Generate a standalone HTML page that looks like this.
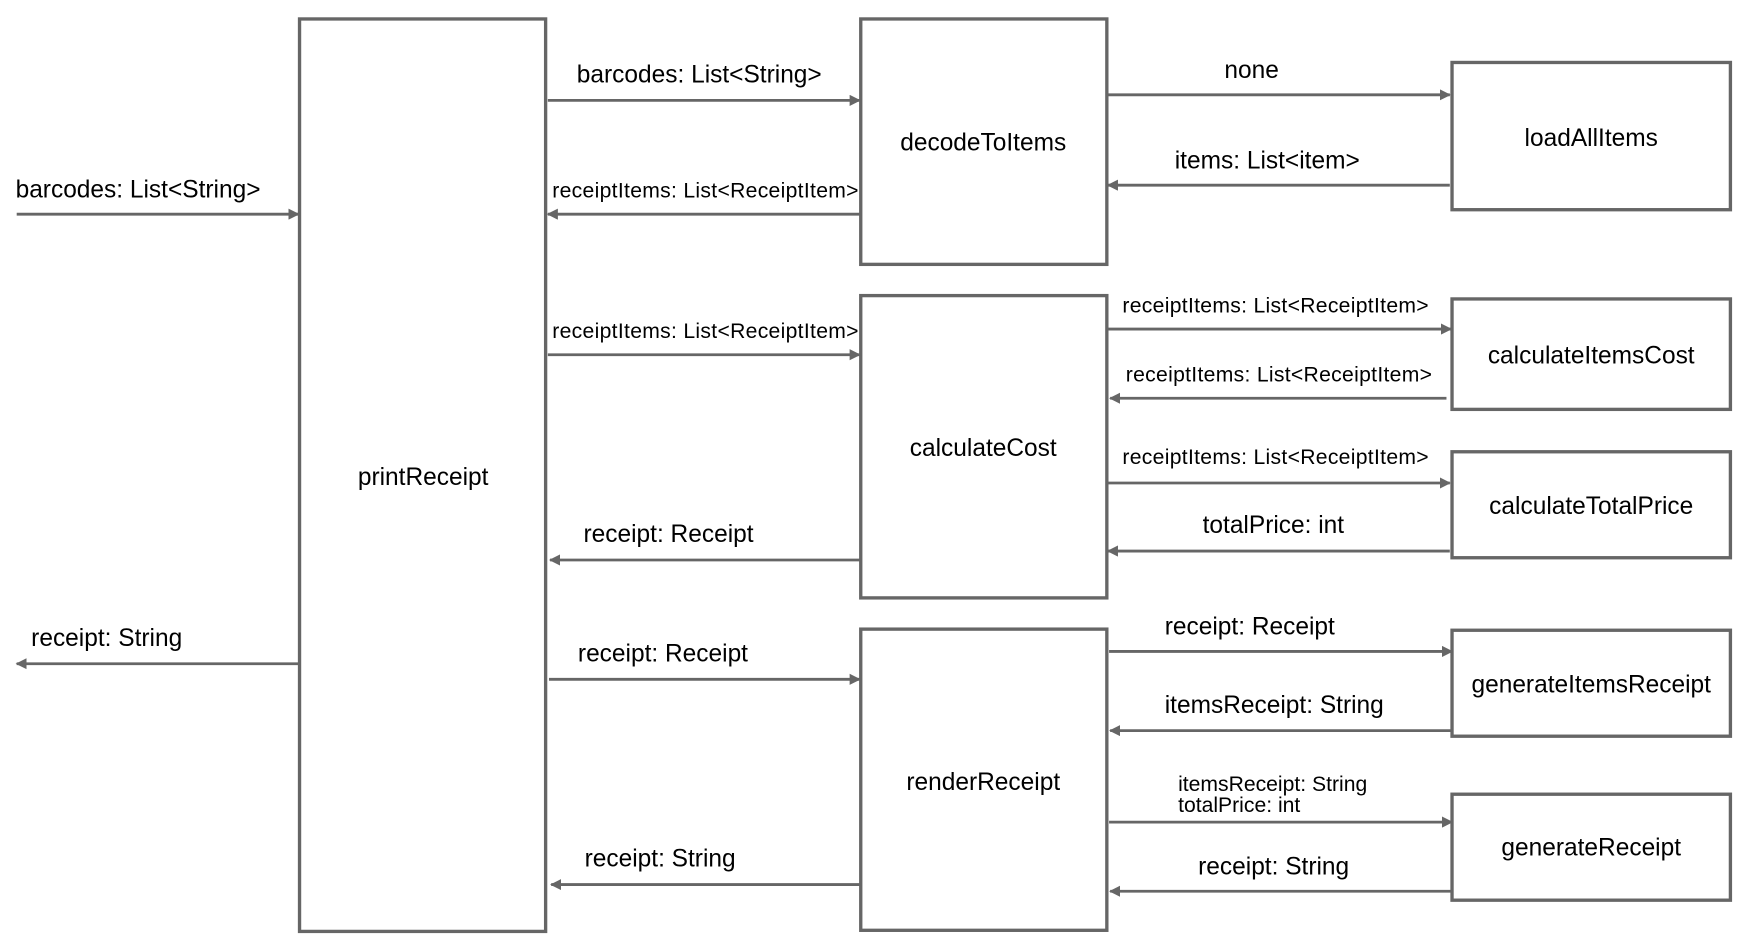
<!DOCTYPE html>
<html><head><meta charset="utf-8"><style>html,body{margin:0;padding:0;background:#fff}svg{display:block}</style></head>
<body>
<svg width="1746" height="937" viewBox="0 0 1568 840" preserveAspectRatio="none" xmlns="http://www.w3.org/2000/svg" font-family="Liberation Sans, Arial, sans-serif" fill="#000">
<defs>
<marker id="a" markerWidth="10" markerHeight="10" refX="9" refY="5" orient="auto" markerUnits="userSpaceOnUse">
<path d="M0,0 L10,5 L0,10 z" fill="#666"/></marker>
</defs>
<g fill="#fff" stroke="#666" stroke-width="3">
<rect x="269" y="17" width="221" height="818"/>
<rect x="773" y="17" width="221" height="220"/>
<rect x="1304" y="56" width="250" height="132"/>
<rect x="773" y="265" width="221" height="271"/>
<rect x="1304" y="268" width="250" height="99"/>
<rect x="1304" y="405" width="250" height="95"/>
<rect x="773" y="564" width="221" height="270"/>
<rect x="1304" y="565" width="250" height="95"/>
<rect x="1304" y="712" width="250" height="95"/>
</g>
<g stroke="#666" stroke-width="2.5" marker-end="url(#a)">
<line x1="15" y1="192" x2="268" y2="192"/>
<line x1="268" y1="595" x2="15" y2="595"/>
<line x1="492" y1="90" x2="772" y2="90"/>
<line x1="772" y1="192" x2="492" y2="192"/>
<line x1="492" y1="318" x2="772" y2="318"/>
<line x1="772" y1="502" x2="494" y2="502"/>
<line x1="493" y1="609" x2="772" y2="609"/>
<line x1="772" y1="793" x2="495" y2="793"/>
<line x1="995" y1="85" x2="1302" y2="85"/>
<line x1="1302" y1="166" x2="995" y2="166"/>
<line x1="995" y1="295" x2="1303" y2="295"/>
<line x1="1299" y1="357" x2="997" y2="357"/>
<line x1="995" y1="433" x2="1302" y2="433"/>
<line x1="1302" y1="494" x2="995" y2="494"/>
<line x1="996" y1="584" x2="1304" y2="584"/>
<line x1="1304" y1="655" x2="997" y2="655"/>
<line x1="996" y1="737" x2="1304" y2="737"/>
<line x1="1304" y1="799" x2="997" y2="799"/>
</g>
<g font-size="22" text-anchor="middle">
<text x="380" y="435">printReceipt</text>
<text x="883" y="135">decodeToItems</text>
<text x="1429" y="131">loadAllItems</text>
<text x="883" y="409">calculateCost</text>
<text x="1429" y="326">calculateItemsCost</text>
<text x="1429" y="461">calculateTotalPrice</text>
<text x="883" y="708">renderReceipt</text>
<text x="1429" y="621">generateItemsReceipt</text>
<text x="1429" y="767">generateReceipt</text>
</g>
<g font-size="22">
<text x="14" y="177">barcodes: List&lt;String&gt;</text>
<text x="28" y="579">receipt: String</text>
<text x="518" y="74">barcodes: List&lt;String&gt;</text>
<text x="524" y="486">receipt: Receipt</text>
<text x="519" y="593">receipt: Receipt</text>
<text x="525" y="777">receipt: String</text>
<text x="1124" y="70" text-anchor="middle">none</text>
<text x="1055" y="151">items: List&lt;item&gt;</text>
<text x="1080" y="478">totalPrice: int</text>
<text x="1046" y="569">receipt: Receipt</text>
<text x="1046" y="639">itemsReceipt: String</text>
<text x="1076" y="784">receipt: String</text>
</g>
<g font-size="19">
<text x="496" y="177" textLength="275">receiptItems: List&lt;ReceiptItem&gt;</text>
<text x="496" y="303" textLength="275">receiptItems: List&lt;ReceiptItem&gt;</text>
<text x="1008" y="280" textLength="275">receiptItems: List&lt;ReceiptItem&gt;</text>
<text x="1011" y="342" textLength="275">receiptItems: List&lt;ReceiptItem&gt;</text>
<text x="1008" y="416" textLength="275">receiptItems: List&lt;ReceiptItem&gt;</text>
<text x="1058" y="709">itemsReceipt: String</text>
<text x="1058" y="728">totalPrice: int</text>
</g>
</svg>
</body></html>
